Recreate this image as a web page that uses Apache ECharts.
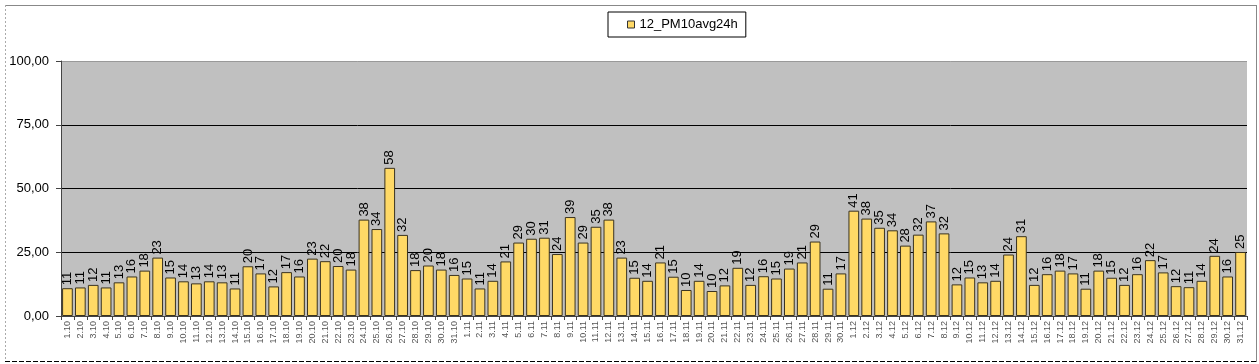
<!DOCTYPE html>
<html><head><meta charset="utf-8">
<script src="https://cdn.jsdelivr.net/npm/echarts@6/dist/echarts.min.js"></script>
<style>html,body{margin:0;padding:0;background:#fff}#c{width:1259px;height:364px}</style>
</head><body><div id="c"></div>
<script>
const seriesName = '12_PM10avg24h';
const octDays = [];
for (let d = 1; d <= 31; d++) octDays.push(d + '.10');
const novDays = [];
for (let d = 1; d <= 30; d++) novDays.push(d + '.11');
const decDays = [];
for (let d = 1; d <= 31; d++) decDays.push(d + '.12');
const categories = octDays.concat(novDays, decDays);

const octValues = [10.9,11.2,12.2,11.2,13.2,15.5,17.8,22.9,15.1,13.6,12.8,13.6,13.2,10.8,19.5,16.7,11.6,17.2,15.5,22.5,21.5,19.6,18.2,37.8,34.1,58.1,31.8,18.0,19.8,18.2,16.1];
const novValues = [14.7,10.8,13.8,21.4,28.8,30.3,30.7,24.3,38.8,28.8,35.0,37.8,22.9,15.0,13.8,21.0,15.4,10.2,13.8,9.8,12.0,18.9,12.2,15.6,14.7,18.6,21.0,29.2,10.7,16.7];
const decValues = [41.3,38.2,34.6,33.6,27.6,31.9,37.1,32.4,12.4,15.1,13.2,13.8,24.1,31.3,12.2,16.4,17.8,16.7,10.7,17.8,15.0,12.2,16.4,21.9,17.1,11.7,11.3,13.8,23.6,15.5,25.1];
const values = octValues.concat(novValues, decValues);

const yTicks = [0, 25, 50, 75, 100];

const chart = echarts.init(document.getElementById('c'), null, {renderer: 'canvas'});
const font = 'Liberation Sans, Arial, sans-serif';
chart.setOption({
  animation: false,
  textStyle: {fontFamily: font},
  legend: {
    left: 608, top: 12,
    padding: [6, 8, 6, 19],
    borderColor: '#000', borderWidth: 1,
    itemWidth: 7, itemHeight: 7,
    icon: 'rect',
    textStyle: {fontSize: 13, color: '#000', fontFamily: font},
    data: [{name: seriesName, itemStyle: {color: '#FFD966', borderColor: '#333', borderWidth: 1}}]
  },
  grid: {
    left: 61, right: 12, top: 61, bottom: 48,
    show: true, backgroundColor: '#C0C0C0', borderWidth: 0, containLabel: false
  },
  xAxis: {
    type: 'category',
    data: categories,
    axisLine: {lineStyle: {color: '#444', width: 1}},
    axisTick: {show: true, alignWithLabel: false, length: 4, lineStyle: {color: '#444'}},
    axisLabel: {interval: 0, rotate: 90, fontSize: 9, color: '#555', margin: 5, fontFamily: font}
  },
  yAxis: {
    type: 'value', min: yTicks[0], max: yTicks[yTicks.length - 1], interval: 25,
    axisLine: {show: true, lineStyle: {color: '#444'}},
    axisTick: {show: true, length: 5, lineStyle: {color: '#444'}},
    axisLabel: {fontSize: 13, color: '#000', margin: 12, fontFamily: font,
      formatter: v => v.toFixed(2).replace('.', ',')},
    splitLine: {show: true, lineStyle: {color: ['#888', '#000', '#000', '#000', '#999'], width: 1}}
  },
  series: [{
    name: seriesName,
    type: 'bar',
    data: values,
    barCategoryGap: '17%',
    itemStyle: {color: '#FFD966', borderColor: '#3a3320', borderWidth: 1},
    label: {
      show: true, position: 'top', rotate: 90, align: 'left', verticalAlign: 'middle',
      distance: 3, fontSize: 13, color: '#000', fontFamily: font,
      formatter: p => Math.round(p.value)
    }
  }],
  graphic: [
    {type: 'line', shape: {x1: 5, y1: 5.5, x2: 1257, y2: 5.5}, style: {stroke: '#888', lineWidth: 1}},
    {type: 'line', shape: {x1: 1256.5, y1: 5, x2: 1256.5, y2: 362}, style: {stroke: '#888', lineWidth: 1}},
    {type: 'line', shape: {x1: 5.5, y1: 5, x2: 5.5, y2: 362}, style: {stroke: '#aaa', lineWidth: 1, lineDash: [2, 2]}},
    {type: 'line', shape: {x1: 5, y1: 361.5, x2: 1257, y2: 361.5}, style: {stroke: '#000', lineWidth: 1, lineDash: [5, 2]}}
  ]
});
</script></body></html>
